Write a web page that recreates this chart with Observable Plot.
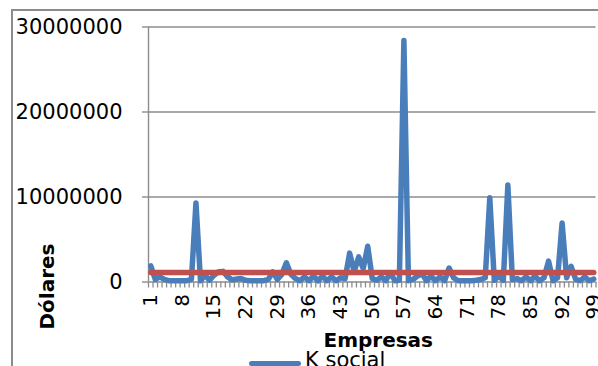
<!DOCTYPE html>
<html>
<head>
<meta charset="utf-8">
<script src="https://cdn.jsdelivr.net/npm/d3@7"></script>
<script src="https://cdn.jsdelivr.net/npm/@observablehq/plot@0.6"></script>
<style>
  html, body { margin: 0; padding: 0; background: #fff; overflow: hidden; }
  #wrap { position: relative; width: 598px; height: 366px; overflow: hidden; font-family: "DejaVu Sans", sans-serif; }
  #border { position: absolute; left: 11px; top: 9px; width: 700px; height: 500px; border-top: 2px solid #8c8c8c; border-left: 2px solid #8c8c8c; }
  #chart { position: absolute; left: 0; top: 0; }
  #legend { position: absolute; left: 249px; top: 350px; display: flex; align-items: center; font-size: 21px; line-height: 21px; color: #000; white-space: nowrap; }
  #legend .sw { display: inline-block; width: 52px; height: 5px; border-radius: 3px; background: #4a7ebb; margin-right: 4px; position: relative; top: 3px; }
</style>
</head>
<body>
<div id="wrap">
  <div id="border"></div>
  <div id="chart"></div>
  <div id="legend"><span class="sw"></span><span id="legtext"></span></div>
</div>
<script>
// Empresas (categorías 1..99)
const empresas = d3.range(1, 100);

// K social (dólares) por empresa
const kSocial = [
  1900000, 300000, 600000, 300000, 150000, 150000, 150000, 150000, 150000, 300000,
  9300000, 150000, 800000, 200000, 800000, 1200000, 1250000, 600000, 250000, 350000,
  400000, 200000, 150000, 150000, 150000, 150000, 300000, 1200000, 300000, 900000,
  2250000, 900000, 400000, 150000, 600000, 150000, 700000, 150000, 700000, 150000,
  600000, 150000, 500000, 400000, 3400000, 1200000, 2950000, 1600000, 4200000, 400000,
  200000, 600000, 150000, 1100000, 150000, 200000, 28400000, 150000, 300000, 700000,
  1000000, 150000, 700000, 150000, 600000, 150000, 1650000, 500000, 150000, 150000,
  150000, 150000, 200000, 300000, 500000, 9900000, 200000, 700000, 200000, 11400000,
  300000, 400000, 150000, 600000, 150000, 700000, 150000, 500000, 2450000, 150000,
  500000, 6950000, 500000, 1850000, 300000, 150000, 600000, 150000, 350000
];

// Promedio (línea roja)
const promedio = empresas.map(() => 1120000);

const xTickLabels = [1, 8, 15, 22, 29, 36, 43, 50, 57, 64, 71, 78, 85, 92, 99];
const yTicks = [0, 10000000, 20000000, 30000000];
const serieNombre = "K social";
const xTitle = "Empresas";
const yTitle = "Dólares";

const rows = empresas.map((e, i) => ({ empresa: e, k: kSocial[i], prom: promedio[i] }));
const xDomain = [0.5, empresas.length + 0.5];
const boundaries = d3.range(xDomain[0], xDomain[1] + 0.01, 1);

const gray = "#8c8c8c";

const chart = Plot.plot({
  width: 598,
  height: 366,
  marginLeft: 148,
  marginRight: 2.5,
  marginTop: 26.5,
  marginBottom: 84.5,
  style: { fontFamily: "DejaVu Sans, sans-serif", fontSize: "20px", color: "#000", background: "transparent" },
  x: { type: "linear", domain: xDomain },
  y: { domain: [0, 30000000] },
  marks: [
    Plot.gridY(yTicks.slice(1), { stroke: gray, strokeOpacity: 1, strokeWidth: 1.4 }),
    Plot.ruleX([xDomain[0]], { stroke: gray, strokeWidth: 1.4 }),
    Plot.ruleY([0], { stroke: gray, strokeWidth: 1.4 }),
    Plot.axisY(yTicks, { tickSize: 6, tickPadding: 20, fontSize: 21, stroke: gray, strokeWidth: 1.4, tickFormat: d => String(d), label: null }),
    Plot.axisX(boundaries, { tickSize: 6, text: null, stroke: gray, strokeWidth: 1.3, label: null }),
    Plot.axisX(xTickLabels, { tickSize: 0, tickPadding: 12, tickRotate: -90, fontSize: 20, tickFormat: d => String(d), label: null }),
    Plot.line(rows, { x: "empresa", y: "k", stroke: "#4a7ebb", strokeWidth: 5.5, strokeLinejoin: "round", strokeLinecap: "round" }),
    Plot.line(rows, { x: "empresa", y: "prom", stroke: "#c0504d", strokeWidth: 5.5, strokeLinecap: "round" }),
    Plot.text([xTitle], { frameAnchor: "bottom", dx: 6, dy: 59, fontSize: 20, fontWeight: "bold", lineAnchor: "middle", textAnchor: "middle" }),
    Plot.text([yTitle], { frameAnchor: "bottom-left", dx: -101, dy: 4.5, rotate: -90, fontSize: 20, fontWeight: "bold", lineAnchor: "middle", textAnchor: "middle" })
  ]
});
document.getElementById("chart").appendChild(chart);
document.getElementById("legtext").textContent = serieNombre;
</script>
</body>
</html>
